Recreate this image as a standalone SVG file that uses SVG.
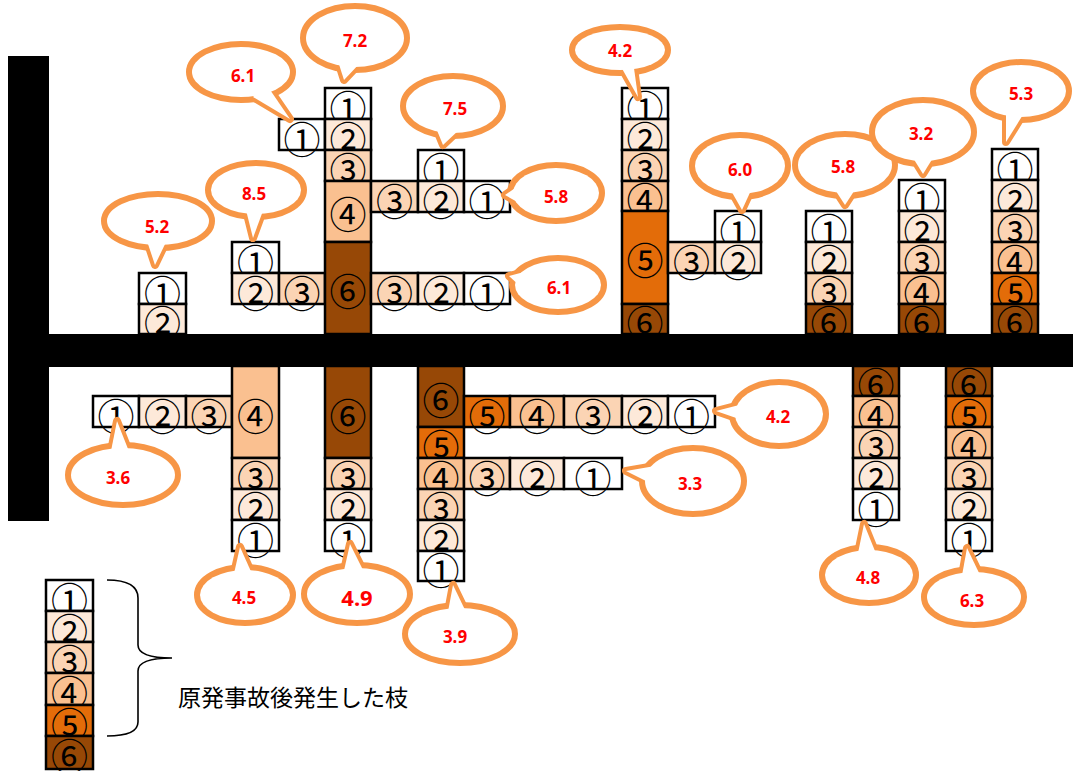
<svg xmlns="http://www.w3.org/2000/svg" xmlns:xlink="http://www.w3.org/1999/xlink" width="1073" height="771" viewBox="0 0 1073 771">
<style>
.c1{fill:#FFFFFF}.c2{fill:#FDE9D9}.c3{fill:#FBD4B4}.c4{fill:#FAC090}.c5{fill:#E36C09}.c6{fill:#974806}
rect.cell{stroke:#000;stroke-width:2.5}
.n{font-family:"Noto Sans CJK JP","Noto Sans",sans-serif;font-size:37px;fill:#000;text-anchor:middle;dominant-baseline:central}
.cs{fill:#fff;stroke:#F79646;stroke-linejoin:round}
.cf{fill:#fff;stroke:none}
.e{stroke-width:12}
.t{stroke-width:8}
.v{font-family:"Noto Sans","Noto Sans CJK JP",sans-serif;font-weight:bold;font-size:17px;fill:#FF0000;text-anchor:middle;dominant-baseline:central}
.bar{fill:#000}
.lg{font-family:"Noto Sans CJK JP","Noto Sans",sans-serif;font-size:23px;fill:#000;dominant-baseline:central}
</style>

<!-- Upper branches -->
<g id="branch-A">
<rect class="cell c1" x="139" y="273" width="47" height="31"/><text class="n" x="162.5" y="292">①</text>
<rect class="cell c2" x="139" y="304" width="47" height="30"/><text class="n" x="162.5" y="322">②</text>
</g>
<g id="branch-B">
<rect class="cell c1" x="232" y="242" width="47" height="31"/><text class="n" x="255.5" y="261">①</text>
<rect class="cell c2" x="232" y="273" width="47" height="31"/><text class="n" x="255.5" y="292">②</text>
<rect class="cell c3" x="279" y="273" width="46" height="31"/><text class="n" x="302" y="292">③</text>
</g>
<g id="branch-C">
<rect class="cell c1" x="279" y="119" width="46" height="31"/><text class="n" x="302" y="138">①</text>
<rect class="cell c1" x="325" y="88" width="46" height="31"/><text class="n" x="348" y="107">①</text>
<rect class="cell c2" x="325" y="119" width="46" height="31"/><text class="n" x="348" y="138">②</text>
<rect class="cell c3" x="325" y="150" width="46" height="31"/><text class="n" x="348" y="169">③</text>
<rect class="cell c4" x="325" y="181" width="46" height="61"/><text class="n" x="348" y="213">④</text>
<rect class="cell c6" x="325" y="242" width="46" height="92"/><text class="n" x="348" y="290">⑥</text>
<rect class="cell c1" x="418" y="150" width="46" height="31"/><text class="n" x="441" y="169">①</text>
<rect class="cell c3" x="371" y="181" width="47" height="31"/><text class="n" x="394.5" y="200">③</text>
<rect class="cell c2" x="418" y="181" width="46" height="31"/><text class="n" x="441" y="200">②</text>
<rect class="cell c1" x="464" y="181" width="46" height="31"/><text class="n" x="487" y="200">①</text>
<rect class="cell c3" x="371" y="273" width="47" height="31"/><text class="n" x="394.5" y="292">③</text>
<rect class="cell c2" x="418" y="273" width="46" height="31"/><text class="n" x="441" y="292">②</text>
<rect class="cell c1" x="464" y="273" width="46" height="31"/><text class="n" x="487" y="292">①</text>
</g>
<g id="branch-D">
<rect class="cell c1" x="622" y="88" width="46" height="31"/><text class="n" x="645" y="107">①</text>
<rect class="cell c2" x="622" y="119" width="46" height="31"/><text class="n" x="645" y="138">②</text>
<rect class="cell c3" x="622" y="150" width="46" height="31"/><text class="n" x="645" y="169">③</text>
<rect class="cell c4" x="622" y="181" width="46" height="30"/><text class="n" x="645" y="199">④</text>
<rect class="cell c5" x="622" y="211" width="46" height="93"/><text class="n" x="645" y="259">⑤</text>
<rect class="cell c6" x="622" y="304" width="46" height="30"/><text class="n" x="645" y="322">⑥</text>
<rect class="cell c3" x="668" y="242" width="47" height="31"/><text class="n" x="691.5" y="261">③</text>
<rect class="cell c1" x="715" y="211" width="46" height="31"/><text class="n" x="738" y="230">①</text>
<rect class="cell c2" x="715" y="242" width="46" height="31"/><text class="n" x="738" y="261">②</text>
</g>
<g id="branch-E">
<rect class="cell c1" x="806" y="211" width="46" height="31"/><text class="n" x="829" y="230">①</text>
<rect class="cell c2" x="806" y="242" width="46" height="31"/><text class="n" x="829" y="261">②</text>
<rect class="cell c3" x="806" y="273" width="46" height="31"/><text class="n" x="829" y="292">③</text>
<rect class="cell c6" x="806" y="304" width="46" height="30"/><text class="n" x="829" y="322">⑥</text>
</g>
<g id="branch-F">
<rect class="cell c1" x="899" y="180" width="46" height="31"/><text class="n" x="922" y="199">①</text>
<rect class="cell c2" x="899" y="211" width="46" height="31"/><text class="n" x="922" y="230">②</text>
<rect class="cell c3" x="899" y="242" width="46" height="31"/><text class="n" x="922" y="261">③</text>
<rect class="cell c4" x="899" y="273" width="46" height="31"/><text class="n" x="922" y="292">④</text>
<rect class="cell c6" x="899" y="304" width="46" height="30"/><text class="n" x="922" y="322">⑥</text>
</g>
<g id="branch-G">
<rect class="cell c1" x="992" y="149" width="46" height="31"/><text class="n" x="1015" y="168">①</text>
<rect class="cell c2" x="992" y="180" width="46" height="31"/><text class="n" x="1015" y="199">②</text>
<rect class="cell c3" x="992" y="211" width="46" height="31"/><text class="n" x="1015" y="230">③</text>
<rect class="cell c4" x="992" y="242" width="46" height="31"/><text class="n" x="1015" y="261">④</text>
<rect class="cell c5" x="992" y="273" width="46" height="31"/><text class="n" x="1015" y="292">⑤</text>
<rect class="cell c6" x="992" y="304" width="46" height="30"/><text class="n" x="1015" y="322">⑥</text>
</g>

<!-- Lower branches -->
<g id="branch-H">
<rect class="cell c1" x="93" y="396" width="46" height="31"/><text class="n" x="116" y="415">①</text>
<rect class="cell c2" x="139" y="396" width="47" height="31"/><text class="n" x="162.5" y="415">②</text>
<rect class="cell c3" x="186" y="396" width="46" height="31"/><text class="n" x="209" y="415">③</text>
<rect class="cell c4" x="232" y="366" width="47" height="92"/><text class="n" x="255.5" y="415">④</text>
<rect class="cell c3" x="232" y="458" width="47" height="31"/><text class="n" x="255.5" y="477">③</text>
<rect class="cell c2" x="232" y="489" width="47" height="31"/><text class="n" x="255.5" y="508">②</text>
<rect class="cell c1" x="232" y="520" width="47" height="31"/><text class="n" x="255.5" y="539">①</text>
</g>
<g id="branch-I">
<rect class="cell c6" x="325" y="366" width="46" height="92"/><text class="n" x="348" y="415">⑥</text>
<rect class="cell c3" x="325" y="458" width="46" height="31"/><text class="n" x="348" y="477">③</text>
<rect class="cell c2" x="325" y="489" width="46" height="31"/><text class="n" x="348" y="508">②</text>
<rect class="cell c1" x="325" y="520" width="46" height="31"/><text class="n" x="348" y="539">①</text>
</g>
<g id="branch-J">
<rect class="cell c6" x="418" y="366" width="46" height="61"/><text class="n" x="441" y="399">⑥</text>
<rect class="cell c5" x="418" y="427" width="46" height="31"/><text class="n" x="441" y="446">⑤</text>
<rect class="cell c4" x="418" y="458" width="46" height="31"/><text class="n" x="441" y="477">④</text>
<rect class="cell c3" x="418" y="489" width="46" height="31"/><text class="n" x="441" y="508">③</text>
<rect class="cell c2" x="418" y="520" width="46" height="31"/><text class="n" x="441" y="539">②</text>
<rect class="cell c1" x="418" y="551" width="46" height="30"/><text class="n" x="441" y="569">①</text>
<rect class="cell c5" x="464" y="396" width="46" height="31"/><text class="n" x="487" y="415">⑤</text>
<rect class="cell c4" x="510" y="396" width="54" height="31"/><text class="n" x="537" y="415">④</text>
<rect class="cell c3" x="564" y="396" width="58" height="31"/><text class="n" x="593" y="415">③</text>
<rect class="cell c2" x="622" y="396" width="46" height="31"/><text class="n" x="645" y="415">②</text>
<rect class="cell c1" x="668" y="396" width="47" height="31"/><text class="n" x="691.5" y="415">①</text>
<rect class="cell c3" x="464" y="458" width="46" height="31"/><text class="n" x="487" y="477">③</text>
<rect class="cell c2" x="510" y="458" width="54" height="31"/><text class="n" x="537" y="477">②</text>
<rect class="cell c1" x="564" y="458" width="58" height="31"/><text class="n" x="593" y="477">①</text>
</g>
<g id="branch-K">
<rect class="cell c6" x="853" y="366" width="46" height="30"/><text class="n" x="876" y="384">⑥</text>
<rect class="cell c4" x="853" y="396" width="46" height="31"/><text class="n" x="876" y="415">④</text>
<rect class="cell c3" x="853" y="427" width="46" height="31"/><text class="n" x="876" y="446">③</text>
<rect class="cell c2" x="853" y="458" width="46" height="31"/><text class="n" x="876" y="477">②</text>
<rect class="cell c1" x="853" y="489" width="46" height="31"/><text class="n" x="876" y="508">①</text>
</g>
<g id="branch-L">
<rect class="cell c6" x="946" y="366" width="46" height="30"/><text class="n" x="969" y="384">⑥</text>
<rect class="cell c5" x="946" y="396" width="46" height="31"/><text class="n" x="969" y="415">⑤</text>
<rect class="cell c4" x="946" y="427" width="46" height="31"/><text class="n" x="969" y="446">④</text>
<rect class="cell c3" x="946" y="458" width="46" height="31"/><text class="n" x="969" y="477">③</text>
<rect class="cell c2" x="946" y="489" width="46" height="31"/><text class="n" x="969" y="508">②</text>
<rect class="cell c1" x="946" y="520" width="46" height="31"/><text class="n" x="969" y="539">①</text>
</g>

<!-- Trunk bars -->
<g id="trunk">
<rect class="bar" x="8" y="56" width="41" height="465"/>
<rect class="bar" x="8" y="334" width="1065" height="33"/>
</g>

<!-- Callouts -->
<g id="callout-1">
<g class="cs"><g id="s1"><polygon class="t" points="253,97 290,119 266,84"/><ellipse class="e" cx="241" cy="72" rx="49" ry="25"/></g></g>
<use xlink:href="#s1" href="#s1" class="cf"/><text class="v" x="243" y="75">6.1</text>
</g>
<g id="callout-2">
<g class="cs"><g id="s2"><polygon class="t" points="337,58 344,80 361,62"/><ellipse class="e" cx="355" cy="38" rx="49" ry="29"/></g></g>
<use xlink:href="#s2" href="#s2" class="cf"/><text class="v" x="355" y="40">7.2</text>
</g>
<g id="callout-3">
<g class="cs"><g id="s3"><polygon class="t" points="146,238 155,265 167,240"/><ellipse class="e" cx="158" cy="221" rx="51" ry="24"/></g></g>
<use xlink:href="#s3" href="#s3" class="cf"/><text class="v" x="157" y="226">5.2</text>
</g>
<g id="callout-4">
<g class="cs"><g id="s4"><polygon class="t" points="245,206 253,238 264,208"/><ellipse class="e" cx="256" cy="190" rx="45" ry="24"/></g></g>
<use xlink:href="#s4" href="#s4" class="cf"/><text class="v" x="254" y="193">8.5</text>
</g>
<g id="callout-5">
<g class="cs"><g id="s5"><polygon class="t" points="434,123 443,145 460,129"/><ellipse class="e" cx="453" cy="106" rx="47" ry="27"/></g></g>
<use xlink:href="#s5" href="#s5" class="cf"/><text class="v" x="455" y="108">7.5</text>
</g>
<g id="callout-6">
<g class="cs"><g id="s6"><polygon class="t" points="518,186 505,195 519,203"/><ellipse class="e" cx="556" cy="193" rx="43" ry="25"/></g></g>
<use xlink:href="#s6" href="#s6" class="cf"/><text class="v" x="556" y="196">5.8</text>
</g>
<g id="callout-7">
<g class="cs"><g id="s7"><polygon class="t" points="524,272 509,276 521,287"/><ellipse class="e" cx="558" cy="285" rx="43" ry="24"/></g></g>
<use xlink:href="#s7" href="#s7" class="cf"/><text class="v" x="559" y="287">6.1</text>
</g>
<g id="callout-8">
<g class="cs"><g id="s8"><polygon class="t" points="620,65 638,97 633,61"/><ellipse class="e" cx="620" cy="50" rx="45" ry="20"/></g></g>
<use xlink:href="#s8" href="#s8" class="cf"/><text class="v" x="620" y="50">4.2</text>
</g>
<g id="callout-9">
<g class="cs"><g id="s9"><polygon class="t" points="729,187 742,210 753,186"/><ellipse class="e" cx="740" cy="166" rx="45" ry="28"/></g></g>
<use xlink:href="#s9" href="#s9" class="cf"/><text class="v" x="740" y="169">6.0</text>
</g>
<g id="callout-10">
<g class="cs"><g id="s10"><polygon class="t" points="832,185 845,205 858,185"/><ellipse class="e" cx="845" cy="165" rx="47" ry="28"/></g></g>
<use xlink:href="#s10" href="#s10" class="cf"/><text class="v" x="843" y="166">5.8</text>
</g>
<g id="callout-11">
<g class="cs"><g id="s11"><polygon class="t" points="910,153 923,174 936,153"/><ellipse class="e" cx="923" cy="132" rx="48" ry="29"/></g></g>
<use xlink:href="#s11" href="#s11" class="cf"/><text class="v" x="921" y="133">3.2</text>
</g>
<g id="callout-12">
<g class="cs"><g id="s12"><polygon class="t" points="1006,108 1006,142 1024,113"/><ellipse class="e" cx="1021" cy="91" rx="45" ry="26"/></g></g>
<use xlink:href="#s12" href="#s12" class="cf"/><text class="v" x="1021" y="93">5.3</text>
</g>
<g id="callout-13">
<g class="cs"><g id="s13"><polygon class="t" points="130,454 117,421 110,456"/><ellipse class="e" cx="123" cy="475" rx="52" ry="27"/></g></g>
<use xlink:href="#s13" href="#s13" class="cf"/><text class="v" x="118" y="477">3.6</text>
</g>
<g id="callout-14">
<g class="cs"><g id="s14"><polygon class="t" points="253,576 240,547 233,578"/><ellipse class="e" cx="245" cy="595" rx="45" ry="25"/></g></g>
<use xlink:href="#s14" href="#s14" class="cf"/><text class="v" x="244" y="597">4.5</text>
</g>
<g id="callout-15">
<g class="cs"><g id="s15"><polygon class="t" points="364,572 350,544 343,575"/><ellipse class="e" cx="357" cy="594" rx="50" ry="26"/></g></g>
<use xlink:href="#s15" href="#s15" class="cf"/><text class="v" x="357" y="597" style="font-size:22px">4.9</text>
</g>
<g id="callout-16">
<g class="cs"><g id="s16"><polygon class="t" points="467,614 453,585 447,617"/><ellipse class="e" cx="460" cy="634" rx="52" ry="26"/></g></g>
<use xlink:href="#s16" href="#s16" class="cf"/><text class="v" x="455" y="636">3.9</text>
</g>
<g id="callout-17">
<g class="cs"><g id="s17"><polygon class="t" points="743,404 716,411 742,420"/><ellipse class="e" cx="779" cy="414" rx="44" ry="29"/></g></g>
<use xlink:href="#s17" href="#s17" class="cf"/><text class="v" x="778" y="416">4.2</text>
</g>
<g id="callout-18">
<g class="cs"><g id="s18"><polygon class="t" points="655,466 626,471 652,484"/><ellipse class="e" cx="693" cy="481" rx="48" ry="30"/></g></g>
<use xlink:href="#s18" href="#s18" class="cf"/><text class="v" x="690" y="483">3.3</text>
</g>
<g id="callout-19">
<g class="cs"><g id="s19"><polygon class="t" points="877,556 864,524 857,558"/><ellipse class="e" cx="869" cy="575" rx="44" ry="25"/></g></g>
<use xlink:href="#s19" href="#s19" class="cf"/><text class="v" x="868" y="577">4.8</text>
</g>
<g id="callout-20">
<g class="cs"><g id="s20"><polygon class="t" points="981,577 967,548 961,581"/><ellipse class="e" cx="974" cy="597" rx="47" ry="25"/></g></g>
<use xlink:href="#s20" href="#s20" class="cf"/><text class="v" x="972" y="600">6.3</text>
</g>

<!-- Legend -->
<g id="legend">
<rect class="cell c1" x="46" y="580" width="47" height="31"/><text class="n" x="69.5" y="599">①</text>
<rect class="cell c2" x="46" y="611" width="47" height="31"/><text class="n" x="69.5" y="630">②</text>
<rect class="cell c3" x="46" y="642" width="47" height="31"/><text class="n" x="69.5" y="661">③</text>
<rect class="cell c4" x="46" y="673" width="47" height="32"/><text class="n" x="69.5" y="692">④</text>
<rect class="cell c5" x="46" y="705" width="47" height="31"/><text class="n" x="69.5" y="724">⑤</text>
<rect class="cell c6" x="46" y="736" width="47" height="33"/><text class="n" x="69.5" y="755">⑥</text>
<path d="M107,580 C128,580 138,586 138,598 L138,645 C138,653 148,658 172,658 C148,658 138,663 138,671 L138,722 C138,731 128,736 107,736" fill="none" stroke="#000" stroke-width="1.6"/>
<text class="lg" x="178" y="696">原発事故後発生した枝</text>
</g>
</svg>
